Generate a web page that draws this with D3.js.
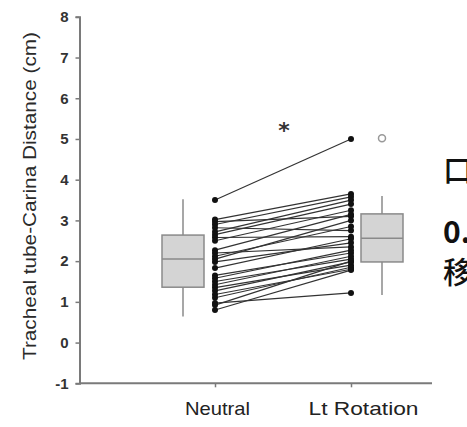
<!DOCTYPE html>
<html><head><meta charset="utf-8">
<script src="https://cdn.jsdelivr.net/npm/d3@7"></script>
<style>body{margin:0;background:#fff}svg{display:block}</style>
</head><body>
<svg id="c" width="467" height="427"></svg>
<script>
const categories = ["Neutral", "Lt Rotation"];
const yTicks = [-1, 0, 1, 2, 3, 4, 5, 6, 7, 8];
const neutralValues = [3.5, 3.02, 2.97, 2.9, 2.82, 2.72, 2.65, 2.58, 2.5, 2.27, 2.2, 2.12, 2.05, 1.98, 1.83, 1.65, 1.58, 1.5, 1.42, 1.35, 1.27, 1.18, 1.1, 0.97, 0.92, 0.8];
const ltRotationValues = [5.0, 3.65, 3.1, 3.58, 2.75, 3.5, 3.4, 2.6, 3.25, 3.15, 2.35, 2.85, 3.0, 2.45, 2.55, 2.2, 2.27, 2.05, 2.12, 1.9, 1.98, 1.8, 1.85, 1.22, 2.0, 1.78];
// box stats: [whiskerLow, Q1, median, Q3, whiskerHigh]
const neutralBox = [0.64, 1.36, 2.05, 2.64, 3.52];
const ltRotationBox = [1.17, 1.98, 2.56, 3.16, 3.6];
const ltRotationOutliers = [5.02];
const yLabel = "Tracheal tube-Carina Distance (cm)";
const sideText = ["口", "0.", "移"];

const svg = d3.select("#c");
const y = d3.scaleLinear().domain([-1, 8]).range([383.3, 16.8]);
const x = d3.scalePoint().domain(categories).range([215, 351]);
const axisColor = "#7a7a7a";

// y axis
const yAxis = svg.append("g").attr("transform", "translate(79.5,0)")
  .call(d3.axisLeft(y).tickValues(yTicks).tickSize(4).tickPadding(7).tickFormat(d => String(d)));
yAxis.attr("font-family", null).attr("font-size", null);
yAxis.select(".domain").attr("stroke", axisColor).attr("stroke-width", 2);
yAxis.selectAll(".tick line").attr("stroke", axisColor).attr("stroke-width", 1.5);
yAxis.selectAll(".tick text").style("font-family", "'Liberation Sans Narrow', 'Liberation Sans', Arial, sans-serif")
  .style("font-size", "15px").style("font-weight", "bold").attr("fill", "#333");

// x axis
svg.append("line").attr("x1", 79.5).attr("x2", 432).attr("y1", y(-1)).attr("y2", y(-1))
  .attr("stroke", axisColor).attr("stroke-width", 2);
const xAxis = svg.append("g").attr("transform", `translate(0,${y(-1)})`)
  .call(d3.axisBottom(x).tickSize(4).tickPadding(14));
xAxis.select(".domain").remove();
xAxis.selectAll(".tick line").attr("stroke", axisColor).attr("stroke-width", 1.5);
xAxis.selectAll(".tick text").style("font-family", "'Liberation Sans', Arial, sans-serif")
  .style("font-size", "19px").attr("fill", "#222")
  .attr("dx", (d, i) => i === 1 ? 12 : 2)
  .attr("textLength", (d, i) => i === 1 ? 110 : 65).attr("lengthAdjust", "spacingAndGlyphs");

// y label
svg.append("text").attr("transform", "translate(36,196) rotate(-90)")
  .attr("text-anchor", "middle").attr("font-family", "Liberation Sans, Arial, sans-serif")
  .attr("font-size", 19).attr("fill", "#2a2a2a").attr("textLength", 328).attr("lengthAdjust", "spacingAndGlyphs")
  .text(yLabel);

// boxes
const boxes = [
  {cat: "Neutral", s: neutralBox, off: -32},
  {cat: "Lt Rotation", s: ltRotationBox, off: 31}
];
const bw = 42;
boxes.forEach(b => {
  const cx = x(b.cat) + b.off;
  const g = svg.append("g");
  g.append("line").attr("x1", cx).attr("x2", cx).attr("y1", y(b.s[0])).attr("y2", y(b.s[4]))
    .attr("stroke", "#8a8a8a").attr("stroke-width", 1.5);
  g.append("rect").attr("x", cx - bw / 2).attr("width", bw)
    .attr("y", y(b.s[3])).attr("height", y(b.s[1]) - y(b.s[3]))
    .attr("fill", "#d4d4d4").attr("stroke", "#8a8a8a").attr("stroke-width", 1.5);
  g.append("line").attr("x1", cx - bw / 2).attr("x2", cx + bw / 2).attr("y1", y(b.s[2])).attr("y2", y(b.s[2]))
    .attr("stroke", "#8a8a8a").attr("stroke-width", 1.5);
});

// outliers
svg.selectAll(".out").data(ltRotationOutliers).enter().append("circle")
  .attr("cx", x("Lt Rotation") + 31).attr("cy", d => y(d)).attr("r", 3.5)
  .attr("fill", "none").attr("stroke", "#999").attr("stroke-width", 1.5);

// paired lines
const pairs = neutralValues.map((v, i) => [v, ltRotationValues[i]]);
svg.append("g").selectAll("line").data(pairs).enter().append("line")
  .attr("x1", x("Neutral")).attr("x2", x("Lt Rotation"))
  .attr("y1", d => y(d[0])).attr("y2", d => y(d[1]))
  .attr("stroke", "#333").attr("stroke-width", 1.2);
svg.append("g").selectAll("circle").data(neutralValues).enter().append("circle")
  .attr("cx", x("Neutral")).attr("cy", d => y(d)).attr("r", 3).attr("fill", "#111");
svg.append("g").selectAll("circle").data(ltRotationValues).enter().append("circle")
  .attr("cx", x("Lt Rotation")).attr("cy", d => y(d)).attr("r", 3).attr("fill", "#111");

// significance star
svg.append("text").attr("x", 284).attr("y", 138).attr("text-anchor", "middle")
  .attr("font-family", "DejaVu Sans, sans-serif").attr("font-size", 22).attr("font-weight", "bold").attr("fill", "#333").text("*");

// cropped side text
const sideY = [181, 243, 283];
sideText.forEach((t, i) => {
  svg.append("text").attr("x", 443).attr("y", sideY[i])
    .attr("font-family", "Noto Sans CJK SC, sans-serif").attr("font-size", 30)
    .attr("font-weight", i === 1 ? "bold" : 500).attr("fill", "#111").text(t);
});
</script>
</body></html>
